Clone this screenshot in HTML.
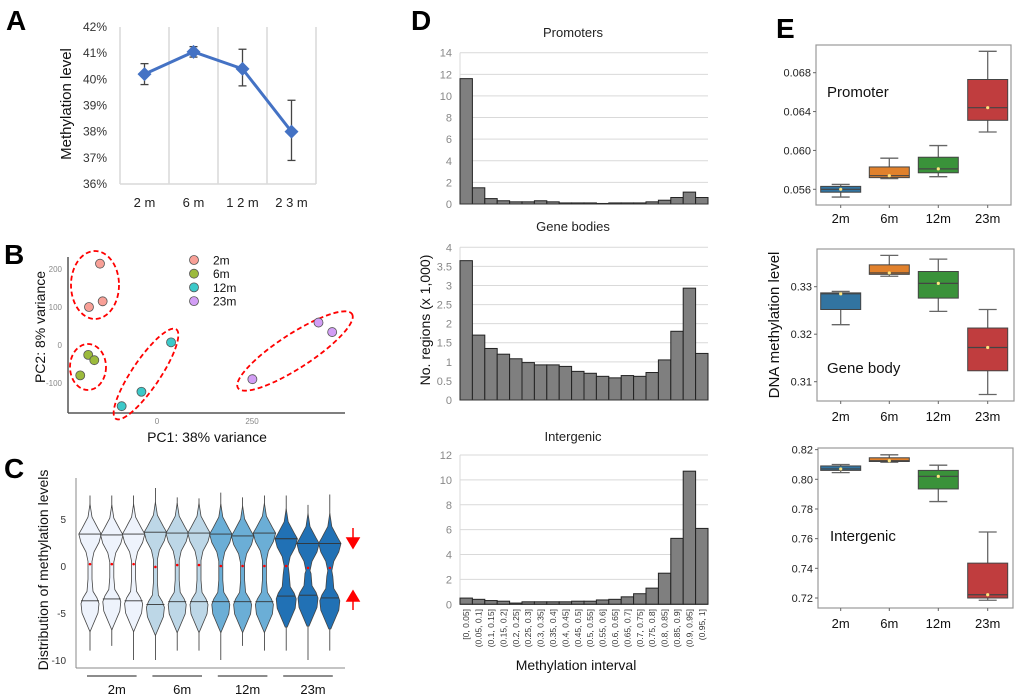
<!DOCTYPE html>
<html><head><meta charset="utf-8">
<style>
html,body{margin:0;padding:0;background:#fff;}
svg{display:block;font-family:"Liberation Sans",sans-serif;}
.lbl{font-weight:bold;font-size:28px;fill:#000;}
</style></head>
<body>
<svg id="fig" width="1020" height="699" viewBox="0 0 1020 699" xmlns="http://www.w3.org/2000/svg">
<text class="lbl" x="6" y="30">A</text>
<text class="lbl" x="4" y="264">B</text>
<text class="lbl" x="4" y="478">C</text>
<text class="lbl" x="411" y="30">D</text>
<text class="lbl" x="776" y="38">E</text>
<g id="gA"></g>
<g id="gB"></g>
<g id="gC"></g>
<g id="gD"></g>
<g id="gE"></g>
</svg>
<script>
// ---------- Panel A data ----------
const aCats = ["2 m","6 m","1 2 m","2 3 m"];
const aVals = [40.2, 41.05, 40.4, 38.0];
const aErrLo = [39.8, 40.85, 39.75, 36.9];
const aErrHi = [40.6, 41.25, 41.15, 39.2];
const aTicks = [36,37,38,39,40,41,42];
// ---------- Panel B data ----------
const bGroups = ["2m","6m","12m","23m"];
const bPC1 = [-150,-179,-143, -181,-165,-202, 37,-41,-93, 251,425,461];
const bPC2 = [214,100,115, -26,-40,-80, 7,-123,-161, -90,59,34];
const bGroupOf = [0,0,0,1,1,1,2,2,2,3,3,3];
const bXTicks = [0,250];
const bYTicks = [-100,0,100,200];
// ---------- Panel C data ----------
const cGroups = ["2m","6m","12m","23m"];
const cUpper = [3.4,3.3,3.4, 3.6,3.5,3.5, 3.4,3.2,3.5, 2.9,2.4,2.4];
const cLower = [-3.7,-3.5,-3.7, -4.1,-3.8,-3.8, -3.8,-3.8,-3.8, -3.2,-3.1,-3.4];
const cMean = [0.2,0.2,0.2, -0.1,0.1,0.1, 0,0,0, 0,-0.2,-0.2];
const cMax = [7.5,7.5,7.5, 8.3,7.3,7.2, 7.8,7.3,7.5, 7.5,6.5,7.6];
const cMin = [-9,-8.5,-10, -10,-9,-9, -10,-8.5,-9, -9,-10,-9];
const cYTicks = [-10,-5,0,5];
// ---------- Panel D data ----------
const dBins = ["[0, 0.05]","(0.05, 0.1]","(0.1, 0.15]","(0.15, 0.2]","(0.2, 0.25]","(0.25, 0.3]","(0.3, 0.35]","(0.35, 0.4]","(0.4, 0.45]","(0.45, 0.5]","(0.5, 0.55]","(0.55, 0.6]","(0.6, 0.65]","(0.65, 0.7]","(0.7, 0.75]","(0.75, 0.8]","(0.8, 0.85]","(0.85, 0.9]","(0.9, 0.95]","(0.95, 1]"];
const dPromoters = [11.6,1.5,0.5,0.3,0.2,0.2,0.3,0.2,0.1,0.1,0.1,0.05,0.1,0.1,0.1,0.2,0.35,0.6,1.1,0.6];
const dGeneBodies = [3.65,1.7,1.35,1.2,1.08,0.98,0.92,0.92,0.88,0.75,0.7,0.62,0.58,0.64,0.62,0.72,1.05,1.8,2.93,1.22];
const dIntergenic = [0.5,0.4,0.3,0.25,0.1,0.2,0.2,0.2,0.2,0.25,0.25,0.35,0.4,0.6,0.85,1.3,2.5,5.3,10.7,6.1];
const dPromTicks = [0,2,4,6,8,10,12,14];
const dGeneTicks = [0,0.5,1,1.5,2,2.5,3,3.5,4];
const dInterTicks = [0,2,4,6,8,10,12];
// ---------- Panel E data ----------
const eCats = ["2m","6m","12m","23m"];
// [whiskerLow, q1, median, q3, whiskerHigh]
const ePromoter = [[0.0552,0.0557,0.0560,0.0563,0.0565],[0.0571,0.0572,0.0574,0.0583,0.0592],[0.0573,0.0577,0.0581,0.0593,0.0605],[0.0619,0.0631,0.0644,0.0673,0.0702]];
const eGeneBody = [[0.322,0.3252,0.3285,0.3287,0.329],[0.3322,0.3326,0.3329,0.3346,0.3366],[0.3248,0.3276,0.3307,0.3332,0.3358],[0.3073,0.3123,0.3172,0.3213,0.3252]];
const eIntergenic = [[0.8045,0.806,0.807,0.809,0.810],[0.8115,0.812,0.8125,0.8145,0.8165],[0.785,0.7935,0.802,0.806,0.8095],[0.7185,0.720,0.7222,0.7435,0.7645]];
const ePromTicks = [0.056,0.060,0.064,0.068];
const eGeneTicks = [0.31,0.32,0.33];
const eInterTicks = [0.72,0.74,0.76,0.78,0.80,0.82];

const NS="http://www.w3.org/2000/svg";
function mk(parent, tag, attrs, name, text){
  const el=document.createElementNS(NS,tag);
  for(const k in attrs) el.setAttribute(k,attrs[k]);
  
  
  if(text!==undefined) el.textContent=text;
  parent.appendChild(el);
  return el;
}

// ===== Panel A =====
(function(){
  const g=document.getElementById('gA');
  const x0=120,x1=316,yTop=27,yBot=184;
  const y=v=>yBot-(v-36)/(42-36)*(yBot-yTop);
  const bw=(x1-x0)/aCats.length;
  const x=i=>x0+bw*(i+0.5);
  for(let i=0;i<=aCats.length;i++) mk(g,'line',{x1:x0+bw*i,x2:x0+bw*i,y1:yTop,y2:yBot,stroke:'#d9d9d9','stroke-width':1.5},'a-gridline');
  mk(g,'line',{x1:x0,x2:x1,y1:yBot,y2:yBot,stroke:'#d9d9d9','stroke-width':1.5},'a-x-axis');
  aTicks.forEach(t=>mk(g,'text',{x:107,y:y(t)+4,'text-anchor':'end','font-size':12,fill:'#333'},'a-y-tick',t+'%'));
  aCats.forEach((c,i)=>mk(g,'text',{x:x(i),y:207,'text-anchor':'middle','font-size':13,fill:'#222'},'a-x-tick',c));
  mk(g,'text',{x:0,y:0,transform:'translate(71,104) rotate(-90)','text-anchor':'middle','font-size':15,fill:'#111'},'a-y-axis-title','Methylation level');
  let d='';aVals.forEach((v,i)=>{d+=(i?'L':'M')+x(i)+','+y(v);});
  mk(g,'path',{d:d,fill:'none',stroke:'#4472c4','stroke-width':3},'a-series-line');
  aVals.forEach((v,i)=>{
    mk(g,'line',{x1:x(i),x2:x(i),y1:y(aErrLo[i]),y2:y(aErrHi[i]),stroke:'#444','stroke-width':1.3},'a-error-bar');
    mk(g,'line',{x1:x(i)-4,x2:x(i)+4,y1:y(aErrLo[i]),y2:y(aErrLo[i]),stroke:'#444','stroke-width':1.3},'a-error-cap');
    mk(g,'line',{x1:x(i)-4,x2:x(i)+4,y1:y(aErrHi[i]),y2:y(aErrHi[i]),stroke:'#444','stroke-width':1.3},'a-error-cap');
    const cx=x(i),cy=y(v);
    mk(g,'path',{d:`M${cx},${cy-7}L${cx+7},${cy}L${cx},${cy+7}L${cx-7},${cy}Z`,fill:'#4472c4'},'a-point');
  });
})();

// ===== Panel B =====
(function(){
  const g=document.getElementById('gB');
  const x=v=>157+v*0.38, y=v=>345-v*0.38;
  const cols=['#f8a097','#9cba3c','#3cc9c9','#d29ef5'];
  mk(g,'line',{x1:68,x2:68,y1:257,y2:413,stroke:'#555','stroke-width':1.5},'b-y-axis');
  mk(g,'line',{x1:68,x2:345,y1:413,y2:413,stroke:'#555','stroke-width':1.5},'b-x-axis');
  bYTicks.forEach(t=>mk(g,'text',{x:62,y:y(t)+3,'text-anchor':'end','font-size':8,fill:'#888'},'b-y-tick',t));
  bXTicks.forEach(t=>mk(g,'text',{x:x(t),y:424,'text-anchor':'middle','font-size':8,fill:'#888'},'b-x-tick',t));
  mk(g,'text',{x:207,y:442,'text-anchor':'middle','font-size':14,fill:'#111'},'b-x-axis-title','PC1: 38% variance');
  mk(g,'text',{x:0,y:0,transform:'translate(45,327) rotate(-90)','text-anchor':'middle','font-size':14,fill:'#111'},'b-y-axis-title','PC2: 8% variance');
  const ell=[[95,285,24,34,0],[88,367,18,23,0],[146,374,54,14,-56],[295,351,68,17,-33]];
  ell.forEach(e=>mk(g,'ellipse',{cx:e[0],cy:e[1],rx:e[2],ry:e[3],transform:`rotate(${e[4]} ${e[0]} ${e[1]})`,fill:'none',stroke:'#f00','stroke-width':1.8,'stroke-dasharray':'5,3'},'b-cluster-ellipse'));
  bPC1.forEach((v,i)=>mk(g,'circle',{cx:x(v),cy:y(bPC2[i]),r:4.5,fill:cols[bGroupOf[i]],stroke:'#555','stroke-width':0.8},'b-point-'+bGroups[bGroupOf[i]]));
  bGroups.forEach((n,i)=>{
    mk(g,'circle',{cx:194,cy:260+i*13.7,r:4.5,fill:cols[i],stroke:'#555','stroke-width':0.8},'b-legend-marker');
    mk(g,'text',{x:213,y:264.5+i*13.7,'font-size':12,fill:'#111'},'b-legend-entry',n);
  });
})();

// ===== Panel C =====
(function(){
  const g=document.getElementById('gC');
  const y=v=>566-v*9.4;
  const cols=['#eef3fc','#bdd7e7','#6baed6','#2171b5'];
  const x=i=>90+i*21.8;
  mk(g,'line',{x1:76,x2:76,y1:478,y2:668,stroke:'#888','stroke-width':1},'c-y-axis');
  mk(g,'line',{x1:76,x2:345,y1:668,y2:668,stroke:'#888','stroke-width':1},'c-x-axis');
  cYTicks.forEach(t=>mk(g,'text',{x:66,y:y(t)+4,'text-anchor':'end','font-size':10,fill:'#333'},'c-y-tick',t));
  mk(g,'text',{x:0,y:0,transform:'translate(48,570) rotate(-90)','text-anchor':'middle','font-size':14,fill:'#111'},'c-y-axis-title','Distribution of methylation levels');
  const prof=[[3.2,0],[1.8,2],[0.6,8],[0,11.2],[-0.9,9],[-1.9,4],[-2.9,2]];
  const profL=[[2.3,2],[1.0,3],[0.3,7],[-0.3,9],[-1.3,8],[-1.8,6],[-2.8,2],[-3.3,0]];
  cUpper.forEach((u,i)=>{
    const cx=x(i),gi=Math.floor(i/3),lo=cLower[i];
    mk(g,'line',{x1:cx,x2:cx,y1:y(cMax[i]),y2:y(cMin[i]),stroke:'#333','stroke-width':0.8},'c-violin-whisker');
    const pts=[];
    prof.forEach(p=>pts.push([u+p[0],p[1]]));
    profL.forEach(p=>pts.push([lo+p[0],p[1]+(gi===3?1:0)]));
    let d='';
    pts.forEach((p,k)=>{d+=(k?'L':'M')+(cx+p[1])+','+y(p[0]);});
    for(let k=pts.length-1;k>=0;k--){d+='L'+(cx-pts[k][1])+','+y(pts[k][0]);}
    d+='Z';
    mk(g,'path',{d:d,fill:cols[gi],stroke:'#444','stroke-width':0.8,'stroke-linejoin':'round'},'c-violin-'+cGroups[gi]);
    mk(g,'line',{x1:cx-11.2,x2:cx+11.2,y1:y(u),y2:y(u),stroke:'#333','stroke-width':0.9},'c-upper-line');
    mk(g,'line',{x1:cx-9,x2:cx+9,y1:y(lo),y2:y(lo),stroke:'#333','stroke-width':0.9},'c-lower-line');
    mk(g,'circle',{cx:cx,cy:y(cMean[i]),r:1.3,fill:'#f00'},'c-mean-dot');
  });
  cGroups.forEach((n,i)=>{
    const a=x(i*3)-3,b=x(i*3+2)+3;
    mk(g,'line',{x1:a,x2:b,y1:676,y2:676,stroke:'#666','stroke-width':1.5},'c-group-bracket');
    mk(g,'text',{x:(a+b)/2+5,y:694,'text-anchor':'middle','font-size':13,fill:'#111'},'c-group-label',n);
  });
  mk(g,'path',{d:'M353,528L353,540M347,538L359,538L353,548Z',stroke:'#f00','stroke-width':1.5,fill:'#f00'},'c-down-arrow');
  mk(g,'path',{d:'M353,610L353,598M347,601L359,601L353,591Z',stroke:'#f00','stroke-width':1.5,fill:'#f00'},'c-up-arrow');
})();

// ===== Panel D =====
(function(){
  const g=document.getElementById('gD');
  function hist(vals,ticks,yTop,yBot,max,title,titleY,name){
    const x0=460,x1=708,bw=(x1-x0)/vals.length;
    const y=v=>yBot-v/max*(yBot-yTop);
    ticks.forEach(t=>{
      mk(g,'line',{x1:x0,x2:x1,y1:y(t),y2:y(t),stroke:'#d9d9d9','stroke-width':1},name+'-gridline');
      mk(g,'text',{x:452,y:y(t)+4,'text-anchor':'end','font-size':11,fill:'#888'},name+'-y-tick',t);
    });
    mk(g,'line',{x1:x0,x2:x0,y1:yTop,y2:yBot,stroke:'#d9d9d9','stroke-width':1},name+'-y-axis');
    vals.forEach((v,i)=>mk(g,'rect',{x:x0+i*bw,y:y(v),width:bw,height:yBot-y(v),fill:'#7f7f7f',stroke:'#222','stroke-width':1},name+'-bar'));
    mk(g,'line',{x1:x0,x2:x1,y1:yBot,y2:yBot,stroke:'#333','stroke-width':1},name+'-x-axis');
    mk(g,'text',{x:573,y:titleY,'text-anchor':'middle','font-size':13,fill:'#222'},name+'-title',title);
  }
  hist(dPromoters,dPromTicks,52.7,204,14,'Promoters',37,'d-promoters');
  hist(dGeneBodies,dGeneTicks,247.3,400,4,'Gene bodies',231,'d-gene-bodies');
  hist(dIntergenic,dInterTicks,455,604.3,12,'Intergenic',441,'d-intergenic');
  const bw=248/dBins.length;
  dBins.forEach((b,i)=>{
    const cx=460+bw*(i+0.5)+3;
    mk(g,'text',{x:0,y:0,transform:`translate(${cx},609) rotate(-90)`,'text-anchor':'end','font-size':8.5,fill:'#333'},'d-x-tick',b);
  });
  mk(g,'text',{x:576,y:670,'text-anchor':'middle','font-size':14,fill:'#111'},'d-x-axis-title','Methylation interval');
  mk(g,'text',{x:0,y:0,transform:'translate(430,320) rotate(-90)','text-anchor':'middle','font-size':14,fill:'#111'},'d-y-axis-title','No. regions (x 1,000)');
})();

// ===== Panel E =====
(function(){
  const g=document.getElementById('gE');
  const cols=['#3274a1','#e1812c','#3a923a','#c03d3e'];
  const cx=[840.7,889.3,938.3,987.7];
  function box(data,ticks,fmt,bx0,bx1,by0,by1,tA,vA,tB,vB,label,lx,ly,name,xlY){
    const y=v=>tA+(v-vA)/(vB-vA)*(tB-tA);
    mk(g,'rect',{x:bx0,y:by0,width:bx1-bx0,height:by1-by0,fill:'none',stroke:'#999','stroke-width':1.2},name+'-frame');
    ticks.forEach(t=>{
      mk(g,'line',{x1:bx0-3,x2:bx0,y1:y(t),y2:y(t),stroke:'#666'},name+'-y-tickmark');
      mk(g,'text',{x:bx0-5,y:y(t)+4,'text-anchor':'end','font-size':11,fill:'#222'},name+'-y-tick',t.toFixed(fmt));
    });
    data.forEach((d,i)=>{
      const c=cx[i],hw=20;
      mk(g,'line',{x1:c,x2:c,y1:y(d[0]),y2:y(d[4]),stroke:'#666','stroke-width':1.3},name+'-whisker');
      mk(g,'line',{x1:c-9,x2:c+9,y1:y(d[0]),y2:y(d[0]),stroke:'#666','stroke-width':1.3},name+'-cap');
      mk(g,'line',{x1:c-9,x2:c+9,y1:y(d[4]),y2:y(d[4]),stroke:'#666','stroke-width':1.3},name+'-cap');
      mk(g,'rect',{x:c-hw,y:y(d[3]),width:2*hw,height:Math.max(1,y(d[1])-y(d[3])),fill:cols[i],stroke:'#444','stroke-width':1},name+'-box-'+eCats[i]);
      mk(g,'line',{x1:c-hw,x2:c+hw,y1:y(d[2]),y2:y(d[2]),stroke:'#444','stroke-width':1.2},name+'-median');
      mk(g,'circle',{cx:c,cy:y(d[2]),r:1.6,fill:'#ffe680'},name+'-point');
      mk(g,'line',{x1:c,x2:c,y1:by1,y2:by1+3,stroke:'#666'},name+'-x-tickmark');
      mk(g,'text',{x:c,y:xlY,'text-anchor':'middle','font-size':13,fill:'#111'},name+'-x-tick',eCats[i]);
    });
    mk(g,'text',{x:lx,y:ly,'font-size':15,fill:'#111'},name+'-label',label);
  }
  box(ePromoter,ePromTicks,3,816,1011,45,205,72.7,0.068,189.3,0.056,'Promoter',827,97,'e-promoter',223);
  box(eGeneBody,eGeneTicks,2,817,1014,249,401,286.7,0.33,381.7,0.31,'Gene body',827,373,'e-gene-body',421);
  box(eIntergenic,eInterTicks,2,818,1013,448,608,479.3,0.80,598,0.72,'Intergenic',830,541,'e-intergenic',628);
  mk(g,'text',{x:0,y:0,transform:'translate(779,325) rotate(-90)','text-anchor':'middle','font-size':15,fill:'#111'},'e-y-axis-title','DNA methylation level');
})();
</script>
</body></html>
